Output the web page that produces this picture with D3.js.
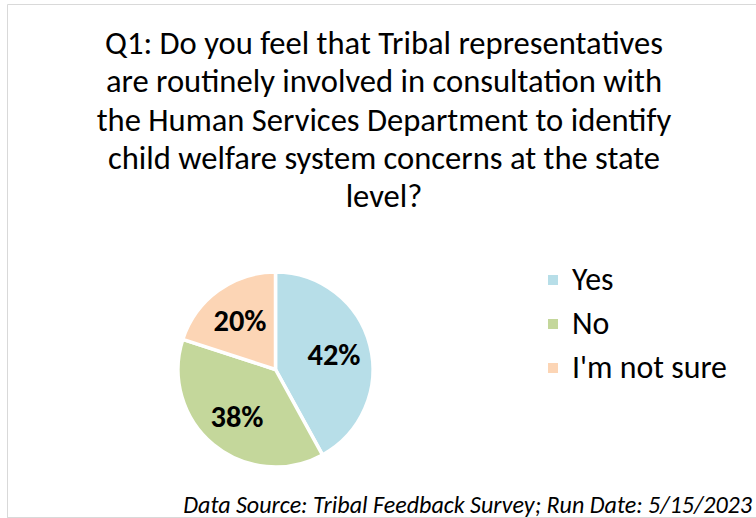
<!DOCTYPE html>
<html>
<head>
<meta charset="utf-8">
<script src="https://cdn.jsdelivr.net/npm/d3@7"></script>
<style>
  html, body { margin: 0; padding: 0; background: #fff; }
  svg { display: block; }
</style>
</head>
<body>
<svg id="chart" width="756" height="518"></svg>
<script>
// Survey responses for Q1
const categories = ["Yes", "No", "I'm not sure"];
const shares = [42, 38, 20];
const colors = ["#B7DEE8", "#C4D79B", "#FCD5B5"];

const titleLines = [
  "Q1: Do you feel that Tribal representatives",
  "are routinely involved in consultation with",
  "the Human Services Department to identify",
  "child welfare system concerns at the state",
  "level?"
];
const footnote = "Data Source: Tribal Feedback Survey; Run Date: 5/15/2023";

const FONT = "Carlito, Lato, 'Open Sans', sans-serif";
const svg = d3.select("#chart");

// Shrink or grow a text element's font so it spans the given width
function fitWidth(sel, width) {
  const node = sel.node();
  const fs = parseFloat(sel.attr("font-size"));
  const w = node.getComputedTextLength();
  const size = fs * width / w;
  sel.attr("font-size", size.toFixed(2));
  return size;
}

// Chart frame
svg.append("path")
  .attr("d", "M7.5,520 V4.5 H760")
  .attr("fill", "none")
  .attr("stroke", "#d9d9d9")
  .attr("stroke-width", 1);
svg.append("line")
  .attr("x1", 7.5).attr("x2", 760)
  .attr("y1", 517.5).attr("y2", 517.5)
  .attr("stroke", "#d9d9d9");

// Title
const title = svg.append("g").attr("font-family", FONT).attr("fill", "#000");
const t0 = title.append("text")
  .attr("x", 384).attr("y", 54)
  .attr("text-anchor", "middle")
  .attr("font-size", 28)
  .text(titleLines[0]);
const titleSize = fitWidth(t0, 558);
titleLines.slice(1).forEach((line, i) => {
  title.append("text")
    .attr("x", 384).attr("y", 54 + 38.3 * (i + 1))
    .attr("text-anchor", "middle")
    .attr("font-size", titleSize)
    .text(line);
});

// Pie
const cx = 275.5, cy = 369.5, r = 97.5;
const data = categories.map((c, i) => ({ name: c, value: shares[i], color: colors[i] }));
const pie = d3.pie().value(d => d.value).sort(null);
const arc = d3.arc().innerRadius(0).outerRadius(r);
const labelArc = d3.arc().innerRadius(r * 0.62).outerRadius(r * 0.62);
const arcs = pie(data);

const g = svg.append("g").attr("transform", `translate(${cx},${cy})`);
g.selectAll("path.slice")
  .data(arcs)
  .join("path")
  .attr("class", "slice")
  .attr("d", arc)
  .attr("fill", d => d.data.color)
  .attr("stroke", "#fff")
  .attr("stroke-width", 3.5)
  .attr("stroke-linejoin", "round");

const labels = g.selectAll("text.pct")
  .data(arcs)
  .join("text")
  .attr("class", "pct")
  .attr("transform", d => `translate(${labelArc.centroid(d)})`)
  .attr("text-anchor", "middle")
  .attr("dy", "0.35em")
  .attr("font-family", FONT)
  .attr("font-weight", "bold")
  .attr("font-size", 28)
  .attr("fill", "#000")
  .text(d => d.data.value + "%");
const pctSize = fitWidth(d3.select(labels.nodes()[0]), 53);
labels.attr("font-size", pctSize);

// Legend
const legend = svg.append("g").attr("transform", "translate(548,275)");
const items = legend.selectAll("g")
  .data(data)
  .join("g")
  .attr("transform", (d, i) => `translate(0,${i * 44})`);
items.append("rect")
  .attr("width", 10).attr("height", 10)
  .attr("fill", d => d.color);
const legText = items.append("text")
  .attr("x", 24).attr("y", 15)
  .attr("font-family", FONT)
  .attr("font-size", 24)
  .attr("fill", "#000")
  .text(d => d.name);
const legSize = fitWidth(d3.select(legText.nodes()[2]), 155);
legText.attr("font-size", legSize);

// Footnote
const foot = svg.append("text")
  .attr("x", 752).attr("y", 513)
  .attr("text-anchor", "end")
  .attr("font-family", FONT)
  .attr("font-style", "italic")
  .attr("font-size", 19)
  .attr("fill", "#000")
  .text(footnote);
fitWidth(foot, 569);
</script>
</body>
</html>
